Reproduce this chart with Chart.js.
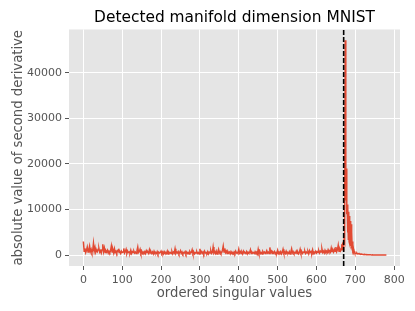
<!DOCTYPE html>
<html>
<head>
<meta charset="utf-8">
<script src="https://cdn.jsdelivr.net/npm/chart.js@4/dist/chart.umd.min.js"></script>
<style>
html,body{margin:0;padding:0;background:#fff;}
canvas{display:block;}
</style>
</head>
<body>
<canvas id="c" width="415" height="311"></canvas>
<script>
// ---- data ----
const titleText = 'Detected manifold dimension MNIST';
const xLabel = 'ordered singular values';
const yLabel = 'absolute value of second derivative';
const xTicks = [0, 100, 200, 300, 400, 500, 600, 700, 800];
const yTicks = [0, 10000, 20000, 30000, 40000];
const detectedDimension = 670;

// indices 0..662, step 2
const lowStart = 0, lowStep = 2;
const lowValues = [
  3000, 900, 1500, 600, 1100, 1800, 700, 1200, 2000, 800, 1300, 600, 1000, 2600, 900, 1700, 700, 1100, 800, 1300,
  1500, 700, 1000, 500, 1200, 2400, 800, 1600, 600, 1000, 700, 1100, 500, 900, 600, 1000, 2000, 700, 1200, 500,
  1400, 600, 900, 500, 1000, 1200, 600, 800, 400, 900, 600, 700, 1500, 500, 800, 1300, 400, 900, 600, 700,
  500, 1100, 400, 800, 600, 900, 500, 700, 400, 1000, 1800, 600, 800, 1300, 500, 900, 400, 700, 500, 800,
  400, 1000, 600, 700, 400, 1200, 500, 800, 400, 700, 300, 900, 500, 600, 400, 800, 300, 700, 500, 600,
  900, 400, 700, 300, 800, 500, 600, 400, 900, 300, 700, 500, 600, 400, 800, 300, 700, 500, 1400, 400,
  700, 500, 800, 300, 600, 1000, 400, 700, 300, 600, 500, 800, 300, 700, 400, 600, 300, 800, 500, 600,
  1200, 400, 700, 300, 600, 500, 800, 400, 600, 300, 1400, 500, 800, 400, 700, 300, 900, 500, 600, 400,
  800, 300, 700, 500, 1000, 400, 600, 1800, 500, 800, 400, 900, 300, 700, 1300, 500, 800, 400, 600, 1100,
  2000, 700, 1500, 600, 900, 400, 800, 500, 700, 300, 800, 500, 600, 300, 700, 400, 900, 500, 600, 400,
  1300, 500, 800, 400, 700, 300, 900, 500, 600, 400, 800, 300, 700, 500, 600, 1200, 400, 700, 500, 600,
  400, 800, 500, 700, 300, 1300, 500, 900, 400, 600, 300, 800, 500, 700, 400, 600, 1000, 500, 700, 400,
  1700, 600, 900, 400, 700, 500, 800, 300, 600, 500, 1100, 400, 700, 500, 800, 300, 600, 1300, 500, 700,
  400, 900, 500, 600, 400, 800, 300, 700, 1400, 500, 800, 400, 600, 500, 900, 400, 700, 300, 600, 1300,
  500, 800, 400, 700, 600, 900, 400, 700, 500, 800, 300, 1000, 600, 800, 500, 1200, 400, 700, 600, 900,
  500, 800, 600, 1000, 500, 900, 700, 1400, 600, 900, 500, 1100, 700, 900, 600, 1200, 800, 1000, 700, 1600,
  800, 1100, 700, 1300, 900, 1800, 800, 1200, 2200, 900, 1400, 1000
];

// indices 664..700, step 1
const peakStart = 664, peakStep = 1;
const peakValues = [
  1500, 2400, 1200, 2800, 1900, 2600, 2200, 3500, 3000, 6000,
  47100, 20600, 12000, 19000, 9000, 11100, 5000, 10500, 3500, 9500,
  3000, 8600, 2500, 7500, 2000, 6800, 1500, 5000, 1200, 3000,
  1000, 1400, 700, 900, 500, 600, 400
];

// indices 702..780, step 2
const tailStart = 702, tailStep = 2;
const tailValues = [
  400, 500, 300, 350, 250, 300, 200, 250, 200, 180,
  150, 200, 150, 120, 130, 100, 120, 100, 90, 100,
  80, 90, 80, 70, 80, 70, 60, 70, 60, 60,
  50, 60, 50, 50, 40, 50, 40, 40, 30, 30
];

// ---- build points ----
function toPoints(start, step, vals) {
  return vals.map((v, i) => ({ x: start + i * step, y: v }));
}
const points = [].concat(
  toPoints(lowStart, lowStep, lowValues),
  toPoints(peakStart, peakStep, peakValues),
  toPoints(tailStart, tailStep, tailValues)
);

const xMin = -37, xMax = 815;
const yMin = -2355, yMax = 49455;

const FONT = "'DejaVu Sans', sans-serif";

const bgPlugin = {
  id: 'bg',
  beforeDraw(chart) {
    const { ctx, chartArea } = chart;
    ctx.save();
    ctx.fillStyle = '#ffffff';
    ctx.fillRect(0, 0, chart.width, chart.height);
    ctx.fillStyle = '#E5E5E5';
    ctx.fillRect(chartArea.left, chartArea.top, chartArea.right - chartArea.left, chartArea.bottom - chartArea.top);
    ctx.restore();
  }
};

new Chart(document.getElementById('c'), {
  type: 'line',
  data: {
    datasets: [
      {
        data: points,
        borderColor: '#E24A33',
        borderWidth: 1.5,
        pointRadius: 0,
        tension: 0,
        order: 1
      },
      {
        data: [{ x: detectedDimension, y: yMin }, { x: detectedDimension, y: yMax }],
        borderColor: '#000000',
        borderWidth: 1.6,
        borderDash: [5, 2],
        pointRadius: 0,
        tension: 0,
        order: 0
      }
    ]
  },
  options: {
    responsive: false,
    animation: false,
    events: [],
    layout: { padding: { left: 0, right: 15, top: 0, bottom: 0 } },
    plugins: {
      legend: { display: false },
      tooltip: { enabled: false },
      title: {
        display: true,
        text: titleText,
        color: '#000000',
        fullSize: false,
        font: { family: FONT, size: 15.4, weight: 'normal' },
        padding: { top: 9, bottom: 2 }
      }
    },
    scales: {
      x: {
        type: 'linear',
        min: xMin,
        max: xMax,
        afterBuildTicks: s => { s.ticks = xTicks.map(v => ({ value: v })); },
        afterFit: s => { s.height = 45; },
        ticks: {
          color: '#555555',
          font: { family: FONT, size: 11 },
          padding: 4,
          maxRotation: 0,
          autoSkip: false,
          callback: v => String(v)
        },
        grid: { color: '#ffffff', lineWidth: 1, tickColor: '#555555', tickLength: 4, drawTicks: true },
        border: { display: false },
        title: {
          display: true,
          text: xLabel,
          color: '#555555',
          font: { family: FONT, size: 13.2 },
          padding: { top: 0, bottom: 10 }
        }
      },
      y: {
        type: 'linear',
        min: yMin,
        max: yMax,
        afterBuildTicks: s => { s.ticks = yTicks.map(v => ({ value: v })); },
        afterFit: s => { s.width = 69; },
        ticks: {
          color: '#555555',
          font: { family: FONT, size: 11 },
          padding: 3,
          autoSkip: false,
          callback: v => String(v)
        },
        grid: { color: '#ffffff', lineWidth: 1, tickColor: '#555555', tickLength: 4, drawTicks: true },
        border: { display: false },
        title: {
          display: true,
          text: yLabel,
          color: '#555555',
          font: { family: FONT, size: 13.2 },
          padding: { top: 11, bottom: 0 }
        }
      }
    }
  },
  plugins: [bgPlugin]
});
</script>
</body>
</html>
